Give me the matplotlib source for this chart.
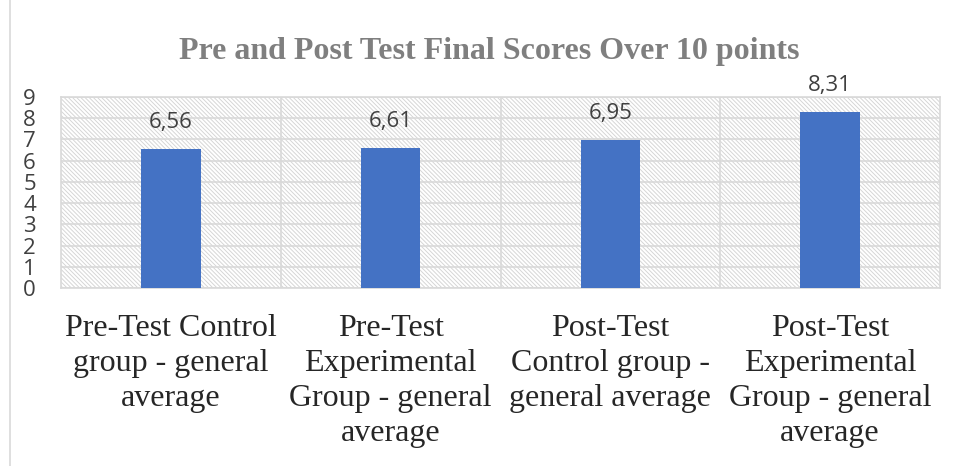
import matplotlib.pyplot as plt
from matplotlib.patches import Rectangle

categories = ["Pre-Test Control\ngroup - general\naverage",
              "Pre-Test\nExperimental\nGroup - general\naverage",
              "Post-Test\nControl group -\ngeneral average",
              "Post-Test\nExperimental\nGroup - general\naverage"]
scores = [6.56, 6.61, 6.95, 8.31]
score_labels = ["6,56", "6,61", "6,95", "8,31"]
yticks = list(range(0, 10))

plt.rcParams["hatch.color"] = "#d6d6d6"
plt.rcParams["hatch.linewidth"] = 0.7

fig = plt.figure(figsize=(9.56, 4.66), dpi=100)
ax = fig.add_axes([0.0638, 0.382, 0.9195, 0.41])

# chart frame line on the left
fig.add_artist(Rectangle((0.0105, -0.01), 1.2, 1.2, transform=fig.transFigure,
                         fill=False, edgecolor="#d9d9d9", linewidth=1.2))

# hatched plot area
ax.add_patch(Rectangle((0, 0), 1, 1, transform=ax.transAxes, facecolor="white",
                       edgecolor="#d6d6d6", hatch="\\" * 8, linewidth=0, zorder=0))

x = range(len(scores))
ax.bar(x, scores, width=0.27, color="#4472c4", zorder=3)
for xi, v, lab in zip(x, scores, score_labels):
    ax.text(xi, v + 1.25, lab, ha="center", va="center", fontsize=16,
            color="#404040", family="Open Sans", clip_on=False)

ax.set_xlim(-0.5, 3.5)
ax.set_ylim(0, 9)
ax.set_yticks(yticks)
ax.set_yticklabels([str(t) for t in yticks], fontsize=16, color="#404040", family="Open Sans")
ax.set_xticks(list(x))
ax.set_xticklabels(categories, fontsize=23, family="Liberation Serif", color="#262626",
                   linespacing=1.26)
ax.tick_params(axis="both", length=0)
ax.tick_params(axis="x", pad=19)
ax.tick_params(axis="y", pad=18)

for y in yticks:
    ax.axhline(y, color="#d9d9d9", linewidth=1.2, zorder=1)
for b in [0.5, 1.5, 2.5]:
    ax.axvline(b, color="#d9d9d9", linewidth=1.2, zorder=1)
for s in ax.spines.values():
    s.set_color("#d9d9d9")
    s.set_linewidth(1.2)

fig.text(0.512, 0.89, "Pre and Post Test Final Scores Over 10 points", ha="center",
         va="center", fontsize=23, fontweight="bold", family="Liberation Serif",
         color="#7f7f7f")

fig.savefig("out.png", dpi=100)
